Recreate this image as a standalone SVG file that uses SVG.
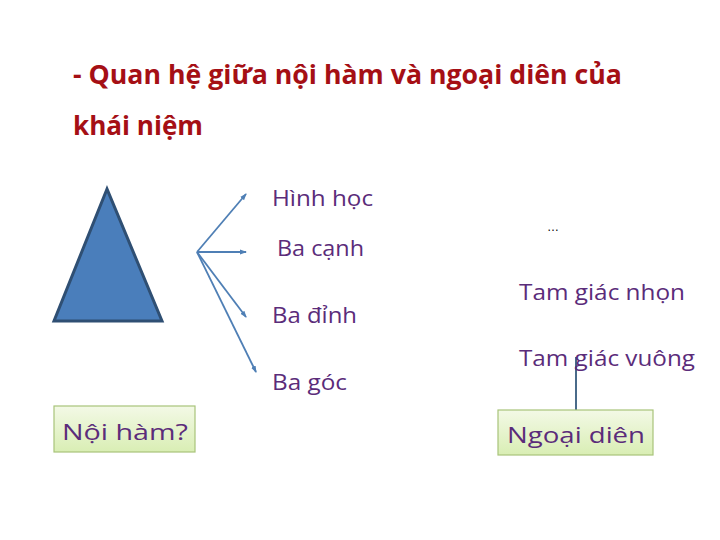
<svg xmlns="http://www.w3.org/2000/svg" width="720" height="540" viewBox="0 0 720 540">
<style>
.title{font-family:"Open Sans","Noto Sans","Liberation Sans",sans-serif;font-weight:bold;font-size:27px;fill:#a50f15}
.lbl{font-family:"Open Sans","Noto Sans","Liberation Sans",sans-serif;font-size:22.5px;fill:#5b2c7a}
.box{fill:url(#g);stroke:#a8c47a;stroke-width:1.2}
.con{stroke:#4f7fb5;stroke-width:1.8;fill:none}
</style>
<defs>
<linearGradient id="g" x1="0" y1="0" x2="0" y2="1">
<stop offset="0" stop-color="#f3f9e6"/>
<stop offset="1" stop-color="#d9eeb4"/>
</linearGradient>
<marker id="ah" markerWidth="8" markerHeight="8" refX="6" refY="4" orient="auto" markerUnits="userSpaceOnUse">
<path d="M0,1.5 L7,4 L0,6.5 Z" fill="#4f7fb5"/>
</marker>
</defs>
<rect width="720" height="540" fill="#ffffff"/>
<text class="title" x="73" y="84" textLength="549" lengthAdjust="spacingAndGlyphs">- Quan hệ giữa nội hàm và ngoại diên của</text>
<text class="title" x="73" y="135" textLength="130" lengthAdjust="spacingAndGlyphs">khái niệm</text>
<g id="triangle"><polygon points="107,189 54,321 162,321" fill="#4a7ebb" stroke="#2f4f73" stroke-width="3" stroke-linejoin="miter"/></g>
<g id="connectors">
<line class="con" x1="197" y1="252" x2="246" y2="194" marker-end="url(#ah)"/>
<line class="con" x1="197" y1="252" x2="246" y2="252" marker-end="url(#ah)"/>
<line class="con" x1="197" y1="252" x2="246" y2="317" marker-end="url(#ah)"/>
<line class="con" x1="197" y1="252" x2="256" y2="372" marker-end="url(#ah)"/>
<line x1="576" y1="357" x2="576" y2="410" stroke="#4a6b8a" stroke-width="2"/>
</g>
<g id="hinhhoc"><text class="lbl" x="272" y="206" textLength="101" lengthAdjust="spacingAndGlyphs">Hình học</text></g>
<g id="bacanh"><text class="lbl" x="277" y="256" textLength="87" lengthAdjust="spacingAndGlyphs">Ba cạnh</text></g>
<g id="badinh"><text class="lbl" x="272" y="323" textLength="85" lengthAdjust="spacingAndGlyphs">Ba đỉnh</text></g>
<g id="bagoc"><text class="lbl" x="272" y="390" textLength="75" lengthAdjust="spacingAndGlyphs">Ba góc</text></g>
<g id="dots"><text x="547" y="231" font-family="Liberation Sans,sans-serif" font-size="12" fill="#000">…</text></g>
<g id="nhon"><text class="lbl" x="519" y="300" textLength="166" lengthAdjust="spacingAndGlyphs">Tam giác nhọn</text></g>
<g id="vuong"><text class="lbl" x="519" y="366" textLength="176" lengthAdjust="spacingAndGlyphs">Tam giác vuông</text></g>
<g id="noiham"><rect class="box" x="54" y="406" width="141" height="46"/><text class="lbl" x="62" y="440" font-size="26" textLength="126" lengthAdjust="spacingAndGlyphs">Nội hàm?</text></g>
<g id="ngoaidien"><rect class="box" x="498" y="410" width="155" height="45"/><text class="lbl" x="507" y="443" font-size="27" textLength="138" lengthAdjust="spacingAndGlyphs">Ngoại diên</text></g>
</svg>
